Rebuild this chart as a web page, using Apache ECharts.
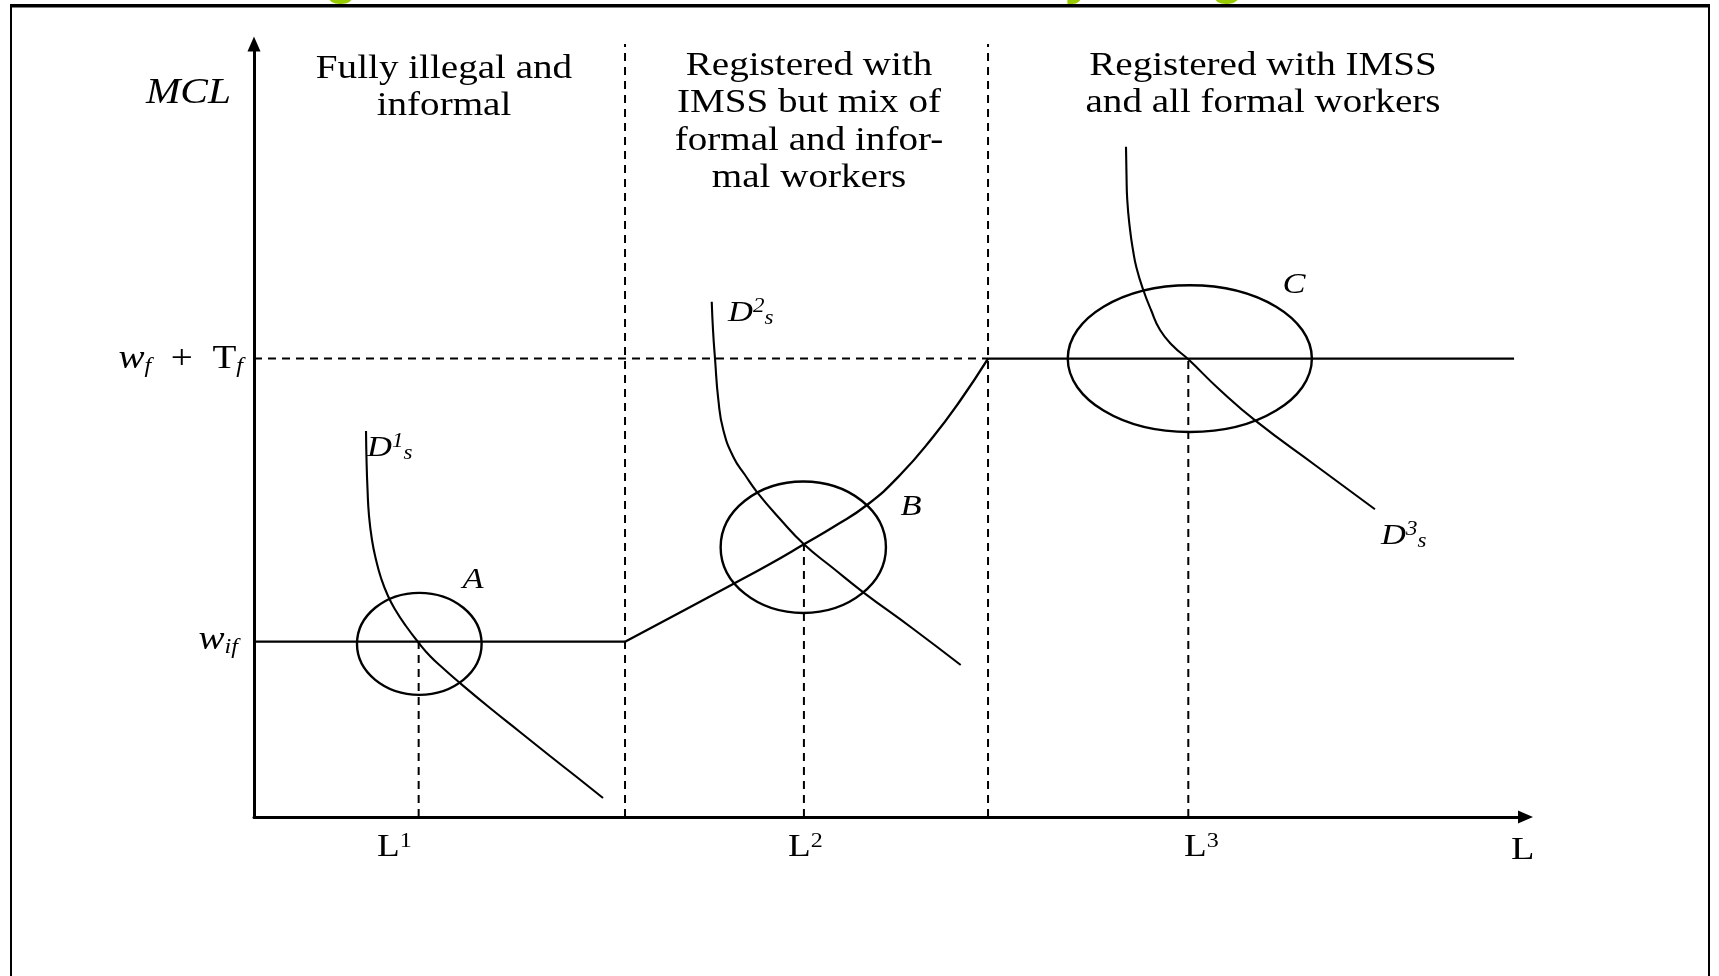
<!DOCTYPE html>
<html>
<head>
<meta charset="utf-8">
<title>MCL by firm size</title>
<script src="https://cdn.jsdelivr.net/npm/echarts@6/dist/echarts.min.js"></script>
<style>
  html, body { margin: 0; padding: 0; background: #fff; }
  #main { width: 1719px; height: 976px; }
</style>
</head>
<body>
<div id="main"></div>
<script>
// axis extent (arbitrary units, no ticks shown)
var xMax = 100;
var yMax = 100;

// wage levels on the MCL axis
var wIf = 22.68;  // w_if
var wFT = 59.3;   // w_f + T_f

// the two regime boundaries (dashed verticals)
var borders = [29.18, 57.73];
var flatEnd = 99.1;

// equilibria A, B, C : L1, L2, L3 and the MCL there
var eqL = [12.95, 43.25, 73.48];
var eqW = [22.68, 35.28, 59.3];

// rising part of the MCL schedule between the two boundaries
var mclRise = [[29.18, 22.68], [33.5, 26.46], [37.83, 30.27], [40.58, 32.73], [43.25, 35.28],
  [45.69, 37.65], [48.21, 40.36], [50.81, 44.24], [53.4, 49.16], [55.52, 53.82], [57.73, 59.3]];

// labour demand curves
var d1 = [[8.81, 49.94], [8.85, 46.18], [8.93, 42.3], [9.04, 39.07], [9.28, 35.83], [9.6, 33.25],
  [9.99, 30.92], [10.54, 28.59], [11.17, 26.65], [11.95, 24.71], [12.9, 22.64], [13.84, 20.83],
  [14.94, 19.15], [16.2, 17.33], [18.56, 14.1], [20.92, 11.0], [23.28, 7.89], [25.48, 5.05], [27.45, 2.46]];
var d2 = [[36.0, 66.66], [36.1, 63.0], [36.26, 59.25], [36.52, 53.95], [36.91, 50.06], [37.7, 46.57],
  [38.62, 44.24], [39.56, 42.04], [41.37, 38.55], [43.25, 35.28], [45.53, 32.21], [47.92, 29.07],
  [51.75, 24.45], [55.58, 19.66]];
var d3 = [[68.58, 86.71], [68.62, 83.05], [68.68, 79.82], [68.9, 75.94], [69.13, 73.35], [69.41, 71.02],
  [69.94, 68.18], [70.55, 65.59], [71.26, 63.0], [72.28, 60.93], [73.48, 59.21], [75.97, 55.24],
  [78.86, 51.14], [83.44, 45.54], [88.16, 39.81]];

// ellipses round A, B, C: centre x, centre y, half width, half height
var rings = [[13.0, 22.4, 4.9, 6.6], [43.2, 34.9, 6.5, 8.5], [73.6, 59.3, 9.6, 9.5]];

var titles = [
  ['Fully illegal and', 'informal'],
  ['Registered with', 'IMSS but mix of', 'formal and infor-', 'mal workers'],
  ['Registered with IMSS', 'and all formal workers']
];

var serif = '"Liberation Serif", "Times New Roman", serif';
var dash = [8, 6];

function seg(data, dashed, width) {
  return {
    type: 'line',
    data: data,
    symbol: 'none',
    silent: true,
    clip: false,
    lineStyle: { color: '#000', width: width || 2, type: dashed ? dash : 'solid' },
    z: 3
  };
}

function curve(data, width) {
  var s = seg(data, false, width);
  s.smooth = 0.5;
  return s;
}

var series = [];
series.push(seg([[0, wIf], [borders[0], wIf]], false, 2.2));
series.push(curve(mclRise, 2.3));
series.push(seg([[borders[1], wFT], [flatEnd, wFT]], false, 2.2));
series.push(seg([[0, wFT], [borders[1], wFT]], true, 2));
borders.forEach(function (b) {
  series.push(seg([[b, 0], [b, yMax]], true, 2));
});
eqL.forEach(function (l, i) {
  series.push(seg([[l, 0], [l, eqW[i]]], true, 2));
});
series.push(curve(d1, 2.1));
series.push(curve(d2, 2.1));
series.push(curve(d3, 2.1));
series.push({
  type: 'custom',
  silent: true,
  clip: false,
  data: rings,
  renderItem: function (params, api) {
    var c = api.coord([api.value(0), api.value(1)]);
    var s = api.size([api.value(2), api.value(3)]);
    return {
      type: 'ellipse',
      shape: { cx: c[0], cy: c[1], rx: s[0], ry: s[1] },
      style: { fill: 'none', stroke: '#000', lineWidth: 2.4 }
    };
  },
  z: 4
});

// text helpers
function label(x, y, text, size, align, italic, extra, sx) {
  var st = {
    text: text,
    fontFamily: serif,
    fontSize: size,
    fontStyle: italic ? 'italic' : 'normal',
    fill: '#000',
    align: align,
    verticalAlign: 'middle'
  };
  if (extra) st.rich = extra;
  return { type: 'text', x: x, y: y, scaleX: sx || 1.15, silent: true, z: 10, style: st };
}

// rich styles: i italic, n upright, s subscript, p superscript
function richScript(size, subSize, supItalic) {
  return {
    i: { fontFamily: serif, fontStyle: 'italic', fontSize: size, lineHeight: size + 2, fill: '#000' },
    n: { fontFamily: serif, fontSize: size, lineHeight: size + 2, fill: '#000' },
    s: { fontFamily: serif, fontStyle: 'italic', fontSize: subSize, lineHeight: 14, verticalAlign: 'bottom', fill: '#000' },
    p: { fontFamily: serif, fontStyle: supItalic ? 'italic' : 'normal', fontSize: subSize, lineHeight: 10,
      verticalAlign: 'top', fill: '#000' }
  };
}

var graphics = [];
// frame
graphics.push({ type: 'rect', shape: { x: 11, y: 5, width: 1698, height: 1010 },
  style: { fill: 'none', stroke: '#000', lineWidth: 2 }, silent: true, z: 1 });
graphics.push({ type: 'line', shape: { x1: 11, y1: 6, x2: 1709, y2: 6 },
  style: { stroke: '#000', lineWidth: 3 }, silent: true, z: 2 });
// bits of the green slide title above the frame
[['g', 341], ['y', 1080], ['g', 1227]].forEach(function (g) {
  graphics.push({ type: 'text', x: g[1], y: 5, silent: true, z: 1,
    style: { text: g[0], fontFamily: '"Liberation Sans", Arial, sans-serif', fontWeight: 'bold',
      fontSize: 56, fill: '#99cc00', align: 'center', verticalAlign: 'bottom' } });
});

// regime titles
var titleX = [444, 809, 1263];
var titleY = [69, 66, 66];
titles.forEach(function (lines, k) {
  lines.forEach(function (t, j) {
    graphics.push(label(titleX[k], titleY[k] + j * 37.3, t, 34, 'center', false));
  });
});

// axis labels
graphics.push(label(231, 94, 'MCL', 36, 'right', true));
graphics.push(label(243, 359, '{i|w}{s|f}{n|  +  T}{s|f}', 34, 'right', false, richScript(34, 21)));
graphics.push(label(238, 640, '{i|w}{s|if}', 34, 'right', false, richScript(34, 21)));
graphics.push(label(377, 848, '{n|L}{p|1}', 31, 'left', false, richScript(31, 20), 1.2));
graphics.push(label(788, 848, '{n|L}{p|2}', 31, 'left', false, richScript(31, 20), 1.2));
graphics.push(label(1184, 848, '{n|L}{p|3}', 31, 'left', false, richScript(31, 20), 1.2));
graphics.push(label(1511, 851, 'L', 32, 'left', false, null, 1.2));

// curve and point labels
graphics.push(label(367, 448, '{i|D}{p|1}{s|s}', 30, 'left', false, richScript(30, 20, true)));
graphics.push(label(728, 313, '{i|D}{p|2}{s|s}', 30, 'left', false, richScript(30, 20, true)));
graphics.push(label(1381, 536, '{i|D}{p|3}{s|s}', 30, 'left', false, richScript(30, 20, true)));
graphics.push(label(473, 580, 'A', 30, 'center', true));
graphics.push(label(911, 507, 'B', 30, 'center', true));
graphics.push(label(1294, 285, 'C', 30, 'center', true));

var chart = echarts.init(document.getElementById('main'), null, { renderer: 'canvas' });
chart.setOption({
  animation: false,
  backgroundColor: '#fff',
  grid: { left: 254, right: 193.5, top: 44, bottom: 159, outerBoundsMode: 'none' },
  xAxis: {
    type: 'value', min: 0, max: xMax,
    axisLine: { show: true, onZero: false, symbol: ['none', 'triangle'], symbolSize: [13, 15],
      lineStyle: { color: '#000', width: 3 } },
    axisTick: { show: false }, axisLabel: { show: false }, splitLine: { show: false }
  },
  yAxis: {
    type: 'value', min: 0, max: yMax,
    axisLine: { show: true, onZero: false, symbol: ['none', 'triangle'], symbolSize: [13, 15],
      lineStyle: { color: '#000', width: 3 } },
    axisTick: { show: false }, axisLabel: { show: false }, splitLine: { show: false }
  },
  series: series,
  graphic: graphics
});
</script>
</body>
</html>
